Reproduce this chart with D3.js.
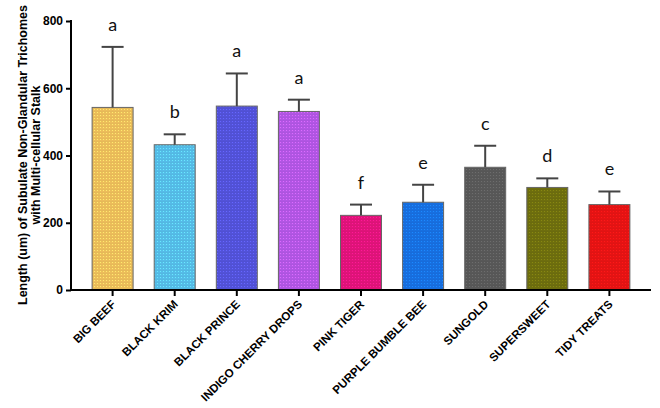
<!DOCTYPE html>
<html><head><meta charset="utf-8">
<script src="https://cdn.jsdelivr.net/npm/d3@7"></script>
<style>body{margin:0;background:#fff}svg{display:block}</style>
</head><body>
<svg id="c" width="660" height="408"></svg>
<script>
const categories = ["BIG BEEF","BLACK KRIM","BLACK PRINCE","INDIGO CHERRY DROPS","PINK TIGER","PURPLE BUMBLE BEE","SUNGOLD","SUPERSWEET","TIDY TREATS"];
const means = [543, 432, 547, 531, 222, 261, 365, 305, 254];
const errors = [180, 31, 97, 35, 32, 52, 64, 27, 39];
const letters = ["a","b","a","a","f","e","c","d","e"];
const colors = ["#ECBD5A","#55BCE8","#5252D8","#B256E4","#E0137A","#176FE0","#585858","#6E6E0E","#E51313"];
const yTicks = [0, 200, 400, 600, 800];
const yLabel = ["Length (um) of Subulate Non-Glandular Trichomes","with Multi-cellular Stalk"];

const svg = d3.select("#c");
const x = d3.scaleBand().domain(categories).range([71, 651]).paddingInner(0.34).paddingOuter(0.34);
const y = d3.scaleLinear().domain([0, 800]).range([290, 21]);

// dot patterns
const defs = svg.append("defs");
colors.forEach((c, i) => {
  const p = defs.append("pattern").attr("id", "p" + i).attr("patternUnits", "userSpaceOnUse")
    .attr("width", 3).attr("height", 3);
  p.append("rect").attr("width", 3).attr("height", 3).attr("fill", c);
  p.append("rect").attr("x", 1).attr("y", 1).attr("width", 1).attr("height", 1)
    .attr("fill", d3.color(c).brighter(0.6));
  p.append("rect").attr("x", 0).attr("y", 0).attr("width", 3).attr("height", 0.5)
    .attr("fill", d3.color(c).darker(0.3)).attr("opacity", 0.5);
});

// bars
svg.append("g").selectAll("rect").data(categories).join("rect")
  .attr("x", d => x(d)).attr("width", x.bandwidth())
  .attr("y", (d, i) => y(means[i])).attr("height", (d, i) => y(0) - y(means[i]))
  .attr("fill", (d, i) => `url(#p${i})`).attr("stroke", "#666").attr("stroke-width", 1);

// error bars
const eg = svg.append("g").attr("stroke", "#444").attr("stroke-width", 2);
categories.forEach((d, i) => {
  const cx = x(d) + x.bandwidth() / 2;
  eg.append("line").attr("x1", cx).attr("x2", cx).attr("y1", y(means[i])).attr("y2", y(means[i] + errors[i]));
  eg.append("line").attr("x1", cx - 11).attr("x2", cx + 11).attr("y1", y(means[i] + errors[i])).attr("y2", y(means[i] + errors[i]));
});

// letters
svg.append("g").selectAll("text").data(categories).join("text")
  .attr("x", d => x(d) + x.bandwidth() / 2)
  .attr("y", (d, i) => y(means[i] + errors[i]) - 16)
  .attr("text-anchor", "middle").attr("font-family", "Lato, 'Open Sans', sans-serif")
  .attr("font-size", 18).attr("fill", "#111")
  .text((d, i) => letters[i]);

// y axis
const ya = svg.append("g").attr("transform", "translate(71,0)")
  .call(d3.axisLeft(y).tickValues(yTicks).tickSize(5).tickPadding(3).tickFormat(d3.format("d")));
ya.select(".domain").attr("stroke", "#000").attr("stroke-width", 2).attr("d", "M0,290V20");
ya.selectAll(".tick line").attr("stroke", "#000").attr("stroke-width", 2);
ya.selectAll(".tick text").attr("font-family", "'Liberation Sans', Arial, sans-serif")
  .attr("font-weight", "bold").attr("font-size", 12).attr("fill", "#000");

// x axis
const xa = svg.append("g").attr("transform", "translate(0,290)")
  .call(d3.axisBottom(x).tickSize(6).tickSizeOuter(0));
xa.select(".domain").attr("stroke", "#000").attr("stroke-width", 2).attr("d", "M70,0H651");
xa.selectAll(".tick line").attr("stroke", "#000").attr("stroke-width", 2);
xa.selectAll(".tick text").attr("font-family", "'Liberation Sans', Arial, sans-serif")
  .attr("font-weight", "bold").attr("font-size", 11.6).attr("fill", "#000")
  .attr("text-anchor", "end").attr("dy", null).attr("y", 0)
  .attr("transform", "translate(4,15) rotate(-45)");

// y label
const yl = svg.append("text").attr("transform", "translate(22,155) rotate(-90)")
  .attr("text-anchor", "middle").attr("font-family", "'Liberation Sans', Arial, sans-serif")
  .attr("font-weight", "bold").attr("font-size", 12.5).attr("fill", "#000");
yLabel.forEach((t, i) => yl.append("tspan").attr("x", 0).attr("dy", i === 0 ? 4.5 : 13.5).text(t));
</script>
</body></html>
